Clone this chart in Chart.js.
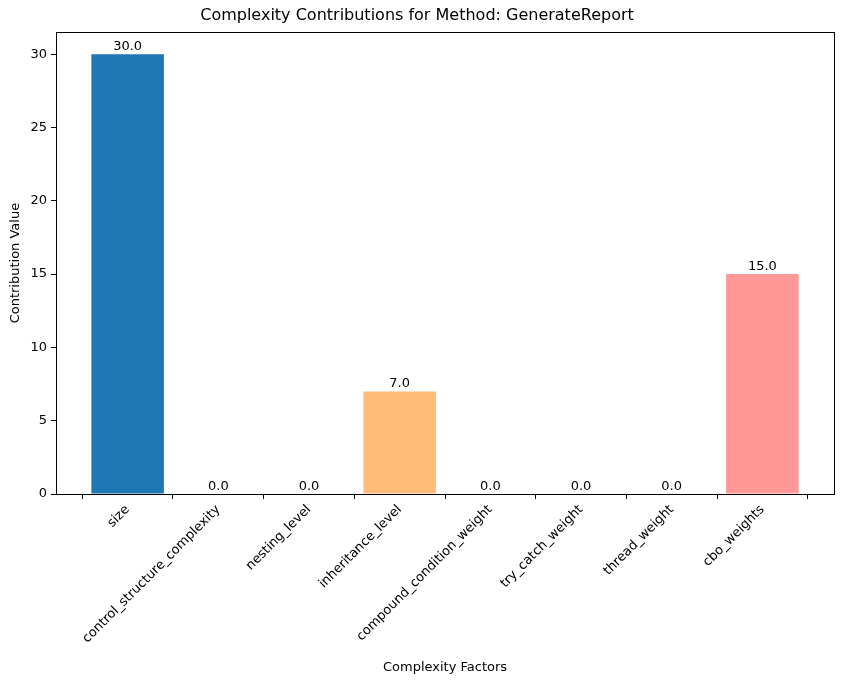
<!DOCTYPE html>
<html><head><meta charset="utf-8">
<script src="https://cdn.jsdelivr.net/npm/chart.js@4"></script>
<style>body{margin:0;background:#fff}#w{width:841px;height:686px}</style>
</head><body><div id="w"><canvas id="c"></canvas></div>
<script>
const categories = ["size","control_structure_complexity","nesting_level","inheritance_level","compound_condition_weight","try_catch_weight","thread_weight","cbo_weights"];
const values = [30,0,0,7,0,0,0,15];
const colors = ["#1f77b4","#aec7e8","#ff7f0e","#ffbb78","#2ca02c","#98df8a","#d62728","#ff9896"];
const yTicks = [0,5,10,15,20,25,30];
const F = "'DejaVu Sans', sans-serif";

const deco = {
  id:'deco',
  afterDraw(chart){
    const {ctx, chartArea:a} = chart;
    ctx.save();
    ctx.strokeStyle='#000'; ctx.lineWidth=1;
    ctx.strokeRect(Math.round(a.left)+0.5, Math.round(a.top)+0.5, Math.round(a.right-a.left), Math.round(a.bottom-a.top));
    ctx.fillStyle='#000';
    ctx.font='13px '+F; ctx.textAlign='center'; ctx.textBaseline='bottom';
    const meta = chart.getDatasetMeta(0);
    meta.data.forEach((b,i)=>{ ctx.fillText(values[i].toFixed(1), b.x, b.y-1); });
    ctx.textBaseline='middle';
    ctx.fillText('Complexity Factors', (a.left+a.right)/2, 668);
    ctx.translate(16,(a.top+a.bottom)/2); ctx.rotate(-Math.PI/2);
    ctx.fillText('Contribution Value',0,0);
    ctx.restore();
  }
};

new Chart(document.getElementById('c'),{
  type:'bar',
  data:{datasets:[{data:values.map((v,i)=>({x:i,y:v})),backgroundColor:colors,barPercentage:0.8,categoryPercentage:1}]},
  options:{
    responsive:true, maintainAspectRatio:false, animation:false,
    layout:{padding:{right:7,left:0}},
    plugins:{legend:{display:false},tooltip:{enabled:false},
      title:{display:true,text:'Complexity Contributions for Method: GenerateReport',color:'#000',font:{family:F,size:16,weight:'normal'},padding:{top:6,bottom:7}}},
    scales:{
      x:{type:'linear',min:-0.79,max:7.79,offset:false,
        afterBuildTicks(s){s.ticks=categories.map((c,i)=>({value:i}));},
        afterFit(s){s.height=192;},
        ticks:{autoSkip:false,maxRotation:45,minRotation:45,color:'#000',font:{family:F,size:13},callback:(v)=>categories[v]},
        grid:{drawOnChartArea:false,drawTicks:true,tickLength:5,color:'#000'},border:{display:true,color:'#000'}},
      y:{min:0,max:31.5,
        afterBuildTicks(s){s.ticks=yTicks.map(v=>({value:v}));},
        afterFit(s){s.width=56;},
        ticks:{color:'#000',font:{family:F,size:13},padding:4},
        grid:{drawOnChartArea:false,drawTicks:true,tickLength:5,color:'#000'},border:{display:true,color:'#000'}}
    }
  },
  plugins:[deco]
});
</script></body></html>
